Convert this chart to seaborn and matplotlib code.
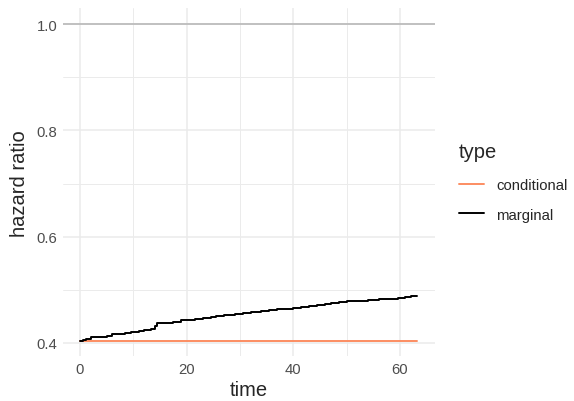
import numpy as np
import pandas as pd
import matplotlib
matplotlib.use("Agg")
import matplotlib.pyplot as plt
from matplotlib.lines import Line2D
import seaborn as sns

# data
marg_time = [0, 0.6, 1.2, 2.0, 3.5, 5.0, 6.0, 7.0, 8.5, 9.5, 11.0, 12.0, 13.3, 14.0, 14.4,
             16.0, 17.5, 19.0, 20.5, 21.5, 23.0, 24.5, 25.5, 27.0, 29.0, 30.5, 32.0, 34.0,
             35.5, 37.0, 38.5, 40.0, 41.5, 43.0, 44.5, 46.0, 47.0, 48.5, 50.0, 52.0, 54.0,
             56.0, 58.0, 59.7, 61.0, 62.0, 63.3]
marg_hr = [0.4045, 0.406, 0.408, 0.4105, 0.4118, 0.4135, 0.416, 0.4175, 0.419, 0.4205,
           0.4225, 0.424, 0.4265, 0.431, 0.4375, 0.438, 0.4395, 0.4425, 0.4435, 0.4455,
           0.4475, 0.449, 0.4515, 0.4535, 0.455, 0.4565, 0.458, 0.4595, 0.4615, 0.463,
           0.4645, 0.466, 0.4675, 0.4695, 0.4715, 0.4735, 0.4755, 0.4775, 0.479, 0.4795,
           0.4815, 0.482, 0.483, 0.4845, 0.486, 0.4875, 0.4885]
cond_time = [0, 63.3]
cond_hr = [0.4045, 0.4045]
ref_hr = 1.0
types = ["conditional", "marginal"]
colors = {"conditional": "#FC8D62", "marginal": "#000000"}
x_ticks = [0, 20, 40, 60]
y_ticks = [0.4, 0.6, 0.8, 1.0]

df = pd.concat([
    pd.DataFrame({"time": cond_time, "hr": cond_hr, "type": "conditional"}),
    pd.DataFrame({"time": marg_time, "hr": marg_hr, "type": "marginal"}),
], ignore_index=True)

sns.set_style("white")
plt.rcParams["font.family"] = ["Liberation Sans", "DejaVu Sans"]

fig = plt.figure(figsize=(5.74, 4.02), dpi=100)
ax = fig.add_axes([0.110, 0.111, 0.647, 0.866])

# grid
for v in [0, 10, 20, 30, 40, 50, 60]:
    ax.axvline(v, color="#EBEBEB", lw=1.1 if v % 20 == 0 else 0.7, zorder=0)
for v in [0.4, 0.5, 0.6, 0.7, 0.8, 0.9, 1.0]:
    ax.axhline(v, color="#EBEBEB", lw=1.1 if v in (0.4, 0.6, 0.8, 1.0) else 0.7, zorder=0)

ax.axhline(ref_hr, color="#B3B3B3", lw=1.1, zorder=1)

sns.lineplot(data=df, x="time", y="hr", hue="type", hue_order=types, palette=colors,
             drawstyle="steps-post", estimator=None, lw=1.4, ax=ax, legend=False, zorder=2)

ax.set_xlim(-3.165, 66.5)
ax.set_ylim(0.3747, 1.0298)
ax.set_xticks(x_ticks)
ax.set_xticklabels([str(t) for t in x_ticks])
ax.set_yticks(y_ticks)
ax.set_yticklabels([f"{t:.1f}" for t in y_ticks])
ax.tick_params(axis="both", length=0, labelsize=10.7, labelcolor="#4D4D4D", pad=4)
for s in ax.spines.values():
    s.set_visible(False)
ax.set_xlabel("time", fontsize=14.5, labelpad=3)
ax.set_ylabel("hazard ratio", fontsize=14.5, labelpad=6)

handles = [Line2D([], [], color=colors[t], lw=1.4) for t in types]
leg = fig.legend(handles, types, title="type", loc="center left",
                 bbox_to_anchor=(0.800, 0.545), frameon=False, fontsize=10.7,
                 title_fontsize=14.5, handlelength=1.7, handletextpad=0.8,
                 labelspacing=1.05, alignment="left", borderpad=0, borderaxespad=0)
leg._legend_box.sep = 12

fig.savefig("out.png", dpi=100)
